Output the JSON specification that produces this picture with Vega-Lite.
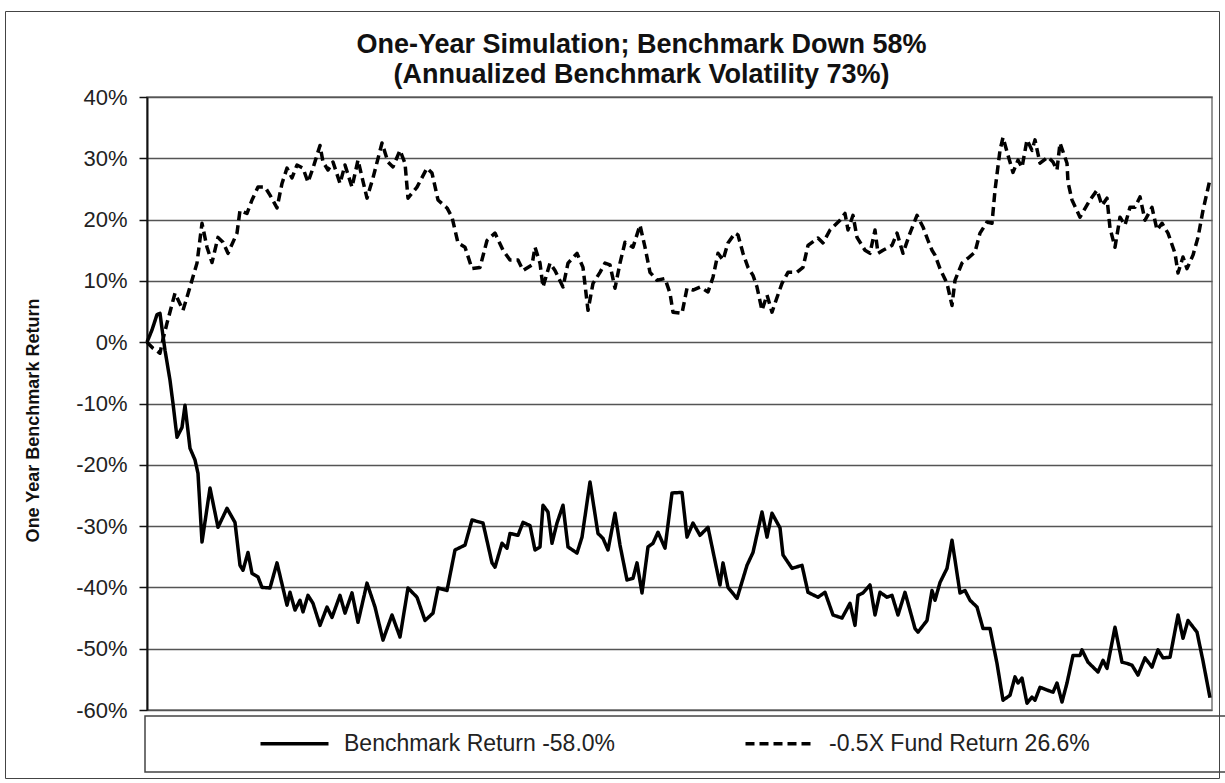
{
  "$schema": "https://vega.github.io/schema/vega-lite/v6.json",
  "width": 1065,
  "height": 613,
  "autosize": {"type": "none"},
  "padding": {"left": 147, "top": 97, "right": 13, "bottom": 73},
  "background": "white",
  "title": {
    "text": ["One-Year Simulation; Benchmark Down 58%", "(Annualized Benchmark Volatility 73%)"],
    "font": "Liberation Sans", "fontSize": 27, "fontWeight": "bold", "color": "#111",
    "anchor": "middle", "frame": "group", "dx": -38, "dy": 78, "lineHeight": 30, "offset": 0
  },
  "datasets": {
    "bench": [
      {"t":0,"r":0},{"t":5,"r":2.0},{"t":10,"r":4.5},{"t":13,"r":4.7},{"t":16,"r":1.0},{"t":18,"r":-1.3},{"t":23,"r":-6.2},{"t":26,"r":-10.0},{"t":30,"r":-15.5},{"t":35,"r":-13.9},{"t":38,"r":-10.3},{"t":43,"r":-17.3},{"t":48,"r":-19.2},{"t":51,"r":-21.4},{"t":55,"r":-32.6},{"t":63,"r":-23.8},{"t":71,"r":-30.2},{"t":80,"r":-27.1},{"t":88,"r":-29.4},{"t":93,"r":-36.4},{"t":96,"r":-37.2},{"t":101,"r":-34.3},{"t":105,"r":-37.7},{"t":111,"r":-38.3},{"t":115,"r":-40.0},{"t":123,"r":-40.1},{"t":130,"r":-36.0},{"t":140,"r":-42.9},{"t":143,"r":-40.8},{"t":148,"r":-43.7},{"t":153,"r":-42.1},{"t":156,"r":-44.0},{"t":161,"r":-41.3},{"t":166,"r":-42.6},{"t":173,"r":-46.2},{"t":180,"r":-43.2},{"t":185,"r":-44.9},{"t":193,"r":-41.3},{"t":198,"r":-44.2},{"t":205,"r":-40.9},{"t":211,"r":-45.7},{"t":220,"r":-39.3},{"t":228,"r":-43.2},{"t":236,"r":-48.6},{"t":245,"r":-44.5},{"t":253,"r":-48.1},{"t":261,"r":-40.1},{"t":270,"r":-41.6},{"t":278,"r":-45.4},{"t":286,"r":-44.2},{"t":291,"r":-40.1},{"t":300,"r":-40.5},{"t":308,"r":-33.9},{"t":318,"r":-33.1},{"t":325,"r":-29.0},{"t":336,"r":-29.5},{"t":345,"r":-36.0},{"t":348,"r":-36.7},{"t":355,"r":-32.8},{"t":360,"r":-33.6},{"t":363,"r":-31.2},{"t":371,"r":-31.5},{"t":376,"r":-29.4},{"t":383,"r":-29.9},{"t":388,"r":-33.9},{"t":393,"r":-33.4},{"t":396,"r":-26.6},{"t":401,"r":-27.7},{"t":405,"r":-32.8},{"t":410,"r":-29.5},{"t":416,"r":-26.6},{"t":421,"r":-33.4},{"t":430,"r":-34.4},{"t":435,"r":-31.8},{"t":443,"r":-22.8},{"t":451,"r":-31.2},{"t":456,"r":-32.0},{"t":461,"r":-33.9},{"t":468,"r":-27.9},{"t":473,"r":-33.1},{"t":480,"r":-38.8},{"t":486,"r":-38.5},{"t":490,"r":-36.0},{"t":495,"r":-40.9},{"t":501,"r":-33.4},{"t":506,"r":-32.8},{"t":511,"r":-31.0},{"t":518,"r":-33.6},{"t":525,"r":-24.6},{"t":535,"r":-24.5},{"t":540,"r":-31.8},{"t":546,"r":-29.5},{"t":553,"r":-31.5},{"t":561,"r":-30.2},{"t":573,"r":-39.6},{"t":576,"r":-36.0},{"t":581,"r":-40.0},{"t":590,"r":-41.8},{"t":600,"r":-36.4},{"t":606,"r":-34.3},{"t":615,"r":-27.7},{"t":620,"r":-31.8},{"t":625,"r":-27.9},{"t":633,"r":-30.3},{"t":636,"r":-34.7},{"t":645,"r":-36.9},{"t":655,"r":-36.4},{"t":661,"r":-40.8},{"t":671,"r":-41.6},{"t":678,"r":-40.8},{"t":686,"r":-44.5},{"t":695,"r":-45.0},{"t":703,"r":-42.6},{"t":708,"r":-46.2},{"t":711,"r":-41.3},{"t":716,"r":-40.9},{"t":723,"r":-39.6},{"t":728,"r":-44.5},{"t":733,"r":-40.8},{"t":740,"r":-41.6},{"t":745,"r":-41.3},{"t":751,"r":-44.5},{"t":758,"r":-40.8},{"t":768,"r":-46.7},{"t":771,"r":-47.3},{"t":780,"r":-45.4},{"t":785,"r":-40.5},{"t":788,"r":-42.1},{"t":793,"r":-39.2},{"t":800,"r":-36.9},{"t":805,"r":-32.3},{"t":813,"r":-40.9},{"t":818,"r":-40.5},{"t":823,"r":-42.1},{"t":830,"r":-43.2},{"t":836,"r":-46.7},{"t":843,"r":-46.7},{"t":850,"r":-52.4},{"t":856,"r":-58.4},{"t":863,"r":-57.6},{"t":868,"r":-54.6},{"t":871,"r":-55.6},{"t":875,"r":-54.8},{"t":880,"r":-58.9},{"t":885,"r":-57.9},{"t":888,"r":-58.4},{"t":893,"r":-56.3},{"t":901,"r":-56.8},{"t":906,"r":-57.1},{"t":910,"r":-55.6},{"t":915,"r":-58.7},{"t":920,"r":-55.6},{"t":926,"r":-51.1},{"t":933,"r":-51.1},{"t":935,"r":-50.2},{"t":941,"r":-52.2},{"t":951,"r":-53.8},{"t":956,"r":-51.9},{"t":960,"r":-53.2},{"t":968,"r":-46.5},{"t":975,"r":-52.2},{"t":980,"r":-52.4},{"t":985,"r":-52.7},{"t":991,"r":-54.3},{"t":998,"r":-51.5},{"t":1005,"r":-53.0},{"t":1011,"r":-50.2},{"t":1016,"r":-51.5},{"t":1023,"r":-51.4},{"t":1031,"r":-44.5},{"t":1036,"r":-48.3},{"t":1041,"r":-45.4},{"t":1050,"r":-47.3},{"t":1056,"r":-52.0},{"t":1063,"r":-58.0}
    ],
    "fund": [
      {"t":0,"r":0},{"t":6,"r":-1.0},{"t":13,"r":-1.8},{"t":16,"r":0.5},{"t":20,"r":3.1},{"t":28,"r":8.0},{"t":36,"r":5.2},{"t":43,"r":9.0},{"t":50,"r":12.9},{"t":55,"r":19.4},{"t":60,"r":15.5},{"t":65,"r":13.0},{"t":71,"r":17.1},{"t":76,"r":16.3},{"t":81,"r":14.5},{"t":90,"r":17.8},{"t":93,"r":21.5},{"t":100,"r":21.0},{"t":105,"r":23.2},{"t":111,"r":25.3},{"t":118,"r":25.3},{"t":123,"r":24.0},{"t":130,"r":21.9},{"t":135,"r":25.9},{"t":140,"r":28.4},{"t":145,"r":26.8},{"t":150,"r":28.9},{"t":156,"r":28.4},{"t":161,"r":26.1},{"t":166,"r":28.4},{"t":173,"r":32.1},{"t":176,"r":29.4},{"t":181,"r":28.1},{"t":186,"r":29.4},{"t":193,"r":25.9},{"t":198,"r":28.9},{"t":205,"r":25.3},{"t":211,"r":29.7},{"t":220,"r":23.5},{"t":226,"r":26.8},{"t":235,"r":32.5},{"t":241,"r":29.4},{"t":246,"r":28.6},{"t":253,"r":31.3},{"t":258,"r":29.2},{"t":261,"r":23.5},{"t":270,"r":25.3},{"t":280,"r":28.4},{"t":285,"r":27.6},{"t":291,"r":23.2},{"t":300,"r":21.9},{"t":305,"r":20.4},{"t":311,"r":16.2},{"t":318,"r":15.5},{"t":325,"r":12.0},{"t":333,"r":12.2},{"t":340,"r":16.6},{"t":348,"r":17.8},{"t":356,"r":15.0},{"t":363,"r":13.4},{"t":371,"r":13.4},{"t":376,"r":11.7},{"t":385,"r":12.6},{"t":388,"r":15.5},{"t":393,"r":12.9},{"t":396,"r":9.0},{"t":403,"r":12.9},{"t":408,"r":11.7},{"t":416,"r":9.0},{"t":421,"r":12.9},{"t":430,"r":14.5},{"t":436,"r":12.2},{"t":441,"r":5.2},{"t":446,"r":9.6},{"t":453,"r":11.4},{"t":458,"r":12.9},{"t":463,"r":12.6},{"t":468,"r":8.8},{"t":473,"r":12.9},{"t":478,"r":16.3},{"t":486,"r":15.5},{"t":493,"r":19.1},{"t":498,"r":15.5},{"t":503,"r":11.4},{"t":510,"r":10.1},{"t":518,"r":10.4},{"t":523,"r":8.0},{"t":526,"r":4.9},{"t":535,"r":4.7},{"t":540,"r":8.8},{"t":546,"r":8.5},{"t":553,"r":9.0},{"t":561,"r":8.2},{"t":566,"r":10.6},{"t":571,"r":14.5},{"t":576,"r":13.4},{"t":581,"r":16.2},{"t":588,"r":17.8},{"t":591,"r":17.5},{"t":596,"r":14.5},{"t":601,"r":12.2},{"t":606,"r":10.9},{"t":610,"r":9.0},{"t":615,"r":5.2},{"t":620,"r":7.7},{"t":625,"r":4.9},{"t":630,"r":7.3},{"t":635,"r":9.6},{"t":641,"r":11.4},{"t":650,"r":11.4},{"t":656,"r":12.2},{"t":661,"r":15.8},{"t":671,"r":17.0},{"t":676,"r":16.2},{"t":683,"r":18.3},{"t":693,"r":19.9},{"t":698,"r":21.0},{"t":701,"r":18.3},{"t":706,"r":20.7},{"t":710,"r":17.1},{"t":718,"r":15.0},{"t":723,"r":14.5},{"t":728,"r":18.3},{"t":731,"r":14.5},{"t":736,"r":15.0},{"t":745,"r":15.8},{"t":750,"r":17.8},{"t":756,"r":14.5},{"t":763,"r":17.8},{"t":770,"r":20.7},{"t":776,"r":18.8},{"t":781,"r":16.6},{"t":785,"r":15.0},{"t":788,"r":14.2},{"t":793,"r":12.0},{"t":800,"r":9.6},{"t":805,"r":6.0},{"t":808,"r":10.1},{"t":815,"r":12.9},{"t":821,"r":13.7},{"t":828,"r":14.7},{"t":833,"r":17.8},{"t":840,"r":19.6},{"t":845,"r":19.4},{"t":848,"r":24.8},{"t":853,"r":31.3},{"t":856,"r":33.4},{"t":861,"r":30.5},{"t":866,"r":27.7},{"t":871,"r":29.7},{"t":875,"r":28.5},{"t":880,"r":33.0},{"t":885,"r":31.3},{"t":888,"r":33.0},{"t":893,"r":29.2},{"t":901,"r":30.2},{"t":906,"r":29.4},{"t":910,"r":28.1},{"t":913,"r":32.5},{"t":920,"r":29.2},{"t":921,"r":26.1},{"t":925,"r":23.2},{"t":933,"r":20.4},{"t":943,"r":23.2},{"t":950,"r":24.8},{"t":955,"r":22.3},{"t":960,"r":23.5},{"t":963,"r":18.6},{"t":968,"r":15.5},{"t":973,"r":20.4},{"t":978,"r":19.1},{"t":983,"r":22.0},{"t":988,"r":22.0},{"t":993,"r":23.7},{"t":998,"r":19.9},{"t":1005,"r":22.0},{"t":1010,"r":18.3},{"t":1015,"r":19.4},{"t":1021,"r":17.8},{"t":1028,"r":14.5},{"t":1031,"r":11.3},{"t":1036,"r":13.9},{"t":1040,"r":12.0},{"t":1046,"r":14.2},{"t":1051,"r":17.1},{"t":1056,"r":21.5},{"t":1063,"r":26.6}
    ]
  },
  "layer": [
    {
      "data": {"name": "bench"},
      "mark": {"type": "line", "color": "black", "strokeWidth": 3.5, "strokeJoin": "round"},
      "encoding": {
        "x": {"field": "t", "type": "quantitative", "scale": {"domain": [0, 1065], "nice": false, "zero": false}, "axis": null},
        "y": {
          "field": "r", "type": "quantitative",
          "scale": {"domain": [-60, 40], "nice": false, "zero": false},
          "axis": {
            "values": [-60, -50, -40, -30, -20, -10, 0, 10, 20, 30, 40],
            "labelExpr": "datum.value + '%'",
            "labelFont": "Liberation Sans", "labelFontSize": 22, "labelColor": "#222", "labelPadding": 12,
            "tickSize": 8, "tickColor": "#111", "tickWidth": 1.5,
            "domainColor": "#111", "domainWidth": 2,
            "gridColor": "#555", "gridWidth": 1.5,
            "title": "One Year Benchmark Return",
            "titleFont": "Liberation Sans", "titleFontSize": 18, "titleFontWeight": "bold", "titleColor": "#111",
            "titleAngle": 270, "titleX": -114, "titleY": 323, "titleAlign": "center", "titleBaseline": "middle"
          }
        },
        "strokeDash": {
          "datum": "Benchmark Return -58.0%", "type": "nominal",
          "scale": {"domain": ["Benchmark Return -58.0%", "-0.5X Fund Return 26.6%"], "range": [[1, 0], [9, 5]]},
          "legend": {
            "orient": "none", "legendX": -2, "legendY": 619,
            "direction": "horizontal", "columns": 2,
            "title": " ", "titleOrient": "left", "titleFontSize": 10, "titlePadding": 88,
            "symbolType": "M0,0H10.89M74.0,0", "symbolSize": 156, "symbolStrokeWidth": 3.5, "symbolStrokeColor": "black",
            "labelFont": "Liberation Sans", "labelFontSize": 23, "labelColor": "#222", "labelOffset": 72, "labelLimit": 500,
            "columnPadding": 4, "padding": 16, "strokeColor": "#444",
            "encode": {
              "legend": {"update": {"strokeWidth": {"value": 1.5}}}
            }
          }
        },
        "opacity": {
          "datum": "frame", "type": "nominal",
          "scale": {"domain": ["frame"], "range": [1]},
          "legend": {
            "orient": "none", "legendX": -142, "legendY": -86,
            "title": null, "padding": 0,
            "symbolType": "M0,0M1213,766", "symbolSize": 4, "symbolStrokeWidth": 0, "symbolOpacity": 0,
            "labelExpr": "''", "labelOpacity": 0, "labelFontSize": 1,
            "strokeColor": "#444",
            "encode": {
              "legend": {"update": {"strokeWidth": {"value": 1.5}}}
            }
          }
        }
      }
    },
    {
      "data": {"name": "fund"},
      "mark": {"type": "line", "color": "black", "strokeWidth": 3.5, "strokeJoin": "round"},
      "encoding": {
        "x": {"field": "t", "type": "quantitative"},
        "y": {"field": "r", "type": "quantitative"},
        "strokeDash": {"datum": "-0.5X Fund Return 26.6%", "type": "nominal"}
      }
    }
  ],
  "config": {"view": {"stroke": "#777", "strokeWidth": 1.5}}
}
